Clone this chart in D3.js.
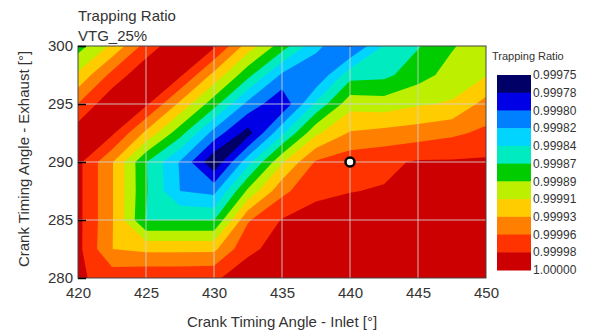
<!doctype html>
<html lang="en">
<head>
<meta charset="UTF-8" />
<script src="https://d3js.org/d3.v7.min.js"></script>
<style>
  body { margin: 0; background: #fff; }
  text { font-family: Arial, "Liberation Sans", sans-serif; fill: #333; }
</style>
</head>
<body>
<div id="chart"></div>
<script>
// grid axes (inlet across, exhaust from top row down)
const inletAngles = [420, 422.5, 425, 427.5, 430, 432.5, 435, 437.5, 440, 442.5, 445, 447.5, 450]
const exhaustAngles = [300, 297.5, 295, 292.5, 290, 287.5, 285, 282.5, 280]

// trapping ratio, one row per exhaust angle
const ratio = [
  [0.999879, 0.999915, 0.999964, 0.999996, 0.999982, 0.999922, 0.999877, 0.999828, 0.999796, 0.999845, 0.999864, 0.999886, 0.999902],
  [0.999915, 0.999962, 0.999996, 0.999982, 0.999926, 0.999873, 0.999817, 0.999800, 0.999857, 0.999860, 0.999879, 0.999897, 0.999909],
  [0.999956, 0.999996, 0.999982, 0.999928, 0.999875, 0.999814, 0.999780, 0.999848, 0.999902, 0.999899, 0.999908, 0.999913, 0.999941],
  [0.999991, 0.999982, 0.999928, 0.999875, 0.999812, 0.999767, 0.999839, 0.999906, 0.999935, 0.999940, 0.999944, 0.999951, 0.999960],
  [0.999984, 0.999935, 0.999867, 0.999819, 0.999758, 0.999835, 0.999908, 0.999958, 0.999969, 0.999973, 0.999980, 0.999980, 0.999981],
  [0.999984, 0.999935, 0.999868, 0.999821, 0.999814, 0.999893, 0.999949, 0.999974, 0.999977, 0.999979, 0.999987, 0.999989, 0.999989],
  [0.999984, 0.999935, 0.999865, 0.999865, 0.999865, 0.999953, 0.999979, 0.999984, 0.999987, 0.999989, 0.999989, 0.999989, 0.999989],
  [0.999984, 0.999933, 0.999928, 0.999928, 0.999928, 0.999974, 0.999984, 0.999989, 0.999989, 0.999989, 0.999989, 0.999989, 0.999989],
  [0.999981, 0.999969, 0.999973, 0.999973, 0.999975, 0.999987, 0.999989, 0.999989, 0.999989, 0.999989, 0.999989, 0.999989, 0.999989]
]

// contour levels and legend
const levels = [0.999754, 0.9997764, 0.9997987, 0.9998211, 0.9998435, 0.9998658, 0.9998882, 0.9999105, 0.9999329, 0.9999553, 0.9999776, 1.0]
const levelLabels = ["0.99975", "0.99978", "0.99980", "0.99982", "0.99984", "0.99987", "0.99989", "0.99991", "0.99993", "0.99996", "0.99998", "1.00000"]
const bandColors = ["#000066", "#0000e6", "#0080ff", "#00d4ff", "#00ecc0", "#00cc00", "#bcf000", "#ffcc00", "#ff8000", "#ff3300", "#cc0000"]

const xTicks = [420, 425, 430, 435, 440, 445, 450]
const yTicks = [280, 285, 290, 295, 300]
const marker = { inlet: 440, exhaust: 290 }

const W = 597, H = 336
const plot = { left: 78, right: 486, top: 46, bottom: 278 }

const x = d3.scaleLinear().domain([420, 450]).range([plot.left, plot.right])
const y = d3.scaleLinear().domain([280, 300]).range([plot.bottom, plot.top])

const svg = d3.select("#chart").append("svg")
  .attr("width", W).attr("height", H)

svg.append("clipPath").attr("id", "plot-clip")
  .append("rect")
  .attr("x", plot.left).attr("y", plot.top)
  .attr("width", plot.right - plot.left).attr("height", plot.bottom - plot.top)

// contours (d3 puts grid value i at i + 0.5)
const nx = inletAngles.length, ny = exhaustAngles.length
const dxStep = inletAngles[1] - inletAngles[0]
const dyStep = exhaustAngles[1] - exhaustAngles[0]
const proj = d3.geoTransform({
  point(cx, cy) {
    this.stream.point(
      x(inletAngles[0] + dxStep * (cx - 0.5)),
      y(exhaustAngles[0] + dyStep * (cy - 0.5)))
  }
})
const path = d3.geoPath(proj)

const contours = d3.contours()
  .size([nx, ny])
  .thresholds(levels.slice(0, bandColors.length))(ratio.flat())

svg.append("g").attr("clip-path", "url(#plot-clip)")
  .selectAll("path")
  .data(contours)
  .join("path")
  .attr("d", path)
  .attr("fill", (d, i) => bandColors[i])

// grid
const grid = svg.append("g").attr("stroke", "#d4d4d4").attr("stroke-opacity", 0.85).attr("stroke-width", 1)
xTicks.slice(1, -1).forEach(t => {
  grid.append("line").attr("x1", x(t)).attr("x2", x(t)).attr("y1", plot.top).attr("y2", plot.bottom)
})
yTicks.slice(1, -1).forEach(t => {
  grid.append("line").attr("x1", plot.left).attr("x2", plot.right).attr("y1", y(t)).attr("y2", y(t))
})

// frame
svg.append("rect")
  .attr("x", plot.left).attr("y", plot.top)
  .attr("width", plot.right - plot.left).attr("height", plot.bottom - plot.top)
  .attr("fill", "none").attr("stroke", "#444").attr("stroke-width", 1)

// axes
const xAxis = svg.append("g")
  .attr("transform", `translate(0,${plot.bottom})`)
  .call(d3.axisBottom(x).tickValues(xTicks).tickSize(0).tickPadding(9))
xAxis.select(".domain").remove()
xAxis.selectAll("text").attr("font-size", 15).attr("fill", "#333")

const yAxis = svg.append("g")
  .attr("transform", `translate(${plot.left},0)`)
  .call(d3.axisLeft(y).tickValues(yTicks).tickSize(-8).tickPadding(14))
yAxis.select(".domain").remove()
yAxis.selectAll("line").attr("stroke", "#000").attr("stroke-width", 1.5)
yAxis.selectAll("text").attr("font-size", 15).attr("fill", "#333").attr("dx", 9)

svg.append("text")
  .attr("x", (plot.left + plot.right) / 2).attr("y", 327)
  .attr("text-anchor", "middle").attr("font-size", 15)
  .text("Crank Timing Angle - Inlet [°]")

svg.append("text")
  .attr("transform", `translate(29,${(plot.top + plot.bottom) / 2 - 3}) rotate(-90)`)
  .attr("text-anchor", "middle").attr("font-size", 15)
  .text("Crank Timing Angle - Exhaust [°]")

// titles
svg.append("text").attr("x", plot.left).attr("y", 21).attr("font-size", 15).text("Trapping Ratio")
svg.append("text").attr("x", plot.left).attr("y", 41).attr("font-size", 15).text("VTG_25%")

// operating point
svg.append("circle")
  .attr("cx", x(marker.inlet)).attr("cy", y(marker.exhaust)).attr("r", 4.5)
  .attr("fill", "#fff").attr("stroke", "#000").attr("stroke-width", 2.5)

// colour legend, lowest level on top
const bar = { left: 497, width: 34, top: 75, bottom: 270 }
const ly = d3.scaleLinear().domain([0, levels.length - 1]).range([bar.top, bar.bottom])
const legend = svg.append("g")
legend.append("text").attr("x", 492).attr("y", 60).attr("font-size", 11).text("Trapping Ratio")
legend.selectAll("rect")
  .data(bandColors)
  .join("rect")
  .attr("x", bar.left).attr("width", bar.width)
  .attr("y", (d, i) => ly(i)).attr("height", (d, i) => ly(i + 1) - ly(i) + 0.5)
  .attr("fill", d => d)
legend.selectAll(".lbl")
  .data(levelLabels)
  .join("text")
  .attr("class", "lbl")
  .attr("x", bar.left + bar.width + 2)
  .attr("y", (d, i) => ly(i))
  .attr("dy", "0.35em")
  .attr("font-size", 12)
  .text(d => d)
</script>
</body>
</html>
